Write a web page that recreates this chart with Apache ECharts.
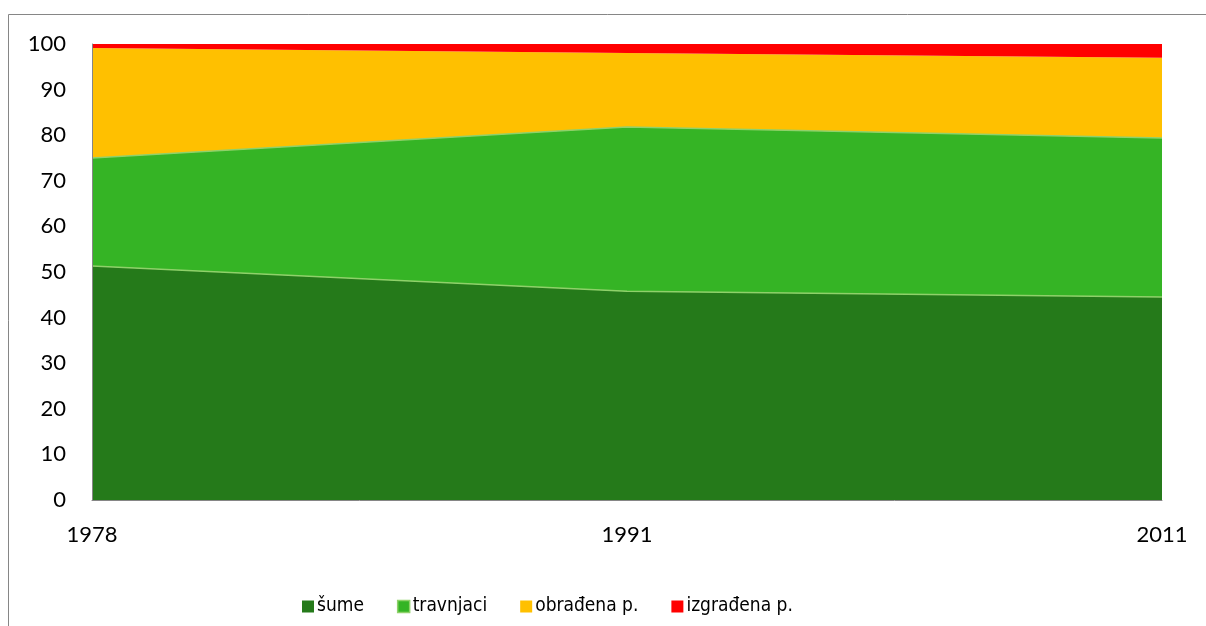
<!DOCTYPE html>
<html>
<head>
<meta charset="utf-8">
<script src="https://cdn.jsdelivr.net/npm/echarts@6/dist/echarts.min.js"></script>
<style>
html, body { margin: 0; padding: 0; background: #fff; }
#chart { width: 1206px; height: 626px; }
</style>
</head>
<body>
<div id="chart"></div>
<script>
var years = ['1978', '1991', '2011'];
var sume = [51.3, 45.8, 44.5];
var travnjaci = [23.7, 36.0, 34.9];
var obradena = [24.1, 16.2, 17.6];
var izgradena = [0.9, 2.0, 3.0];
var yTicks = [0, 10, 20, 30, 40, 50, 60, 70, 80, 90, 100];

var chart = echarts.init(document.getElementById('chart'));

function area(name, data, color, line) {
    return {
        name: name,
        type: 'line',
        stack: 'total',
        data: data,
        symbol: 'none',
        silent: true,
        areaStyle: { color: color, opacity: 1 },
        lineStyle: line ? { color: line, width: 1.5 } : { width: 0 },
        itemStyle: { color: color, borderColor: line || color }
    };
}

var option = {
    animation: false,
    graphic: [{
        type: 'rect',
        shape: { x: 8.5, y: 14.5, width: 1300, height: 700 },
        style: { fill: null, stroke: '#868686', lineWidth: 1 },
        z: -1
    }],
    grid: { left: 92, right: 44, top: 44, bottom: 126 },
    legend: {
        left: 297,
        top: 592,
        itemWidth: 12,
        itemHeight: 12,
        itemGap: 33,
        icon: 'rect',
        textStyle: { fontFamily: 'DejaVu Sans Condensed', fontSize: 19, color: '#000', padding: [0, 0, 0, -2] },
        data: [
            { name: 'šume' },
            { name: 'travnjaci', itemStyle: { borderColor: '#8fd16a', borderWidth: 1.5 } },
            { name: 'obrađena p.' },
            { name: 'izgrađena p.' }
        ]
    },
    xAxis: {
        type: 'category',
        data: years,
        boundaryGap: false,
        axisLine: { lineStyle: { color: '#868686' } },
        axisTick: { show: false },
        axisLabel: { color: '#000', fontFamily: 'Lato', fontSize: 22, margin: 24 },
        z: 10
    },
    yAxis: {
        type: 'value',
        min: 0,
        max: 100,
        interval: 10,
        axisLine: { show: true, lineStyle: { color: '#868686' } },
        axisTick: { show: false },
        splitLine: { show: false },
        axisLabel: {
            color: '#000', fontFamily: 'Lato', fontSize: 22, margin: 26,
            formatter: function (v) { return yTicks.indexOf(v) >= 0 ? String(v) : ''; }
        },
        z: 10
    },
    series: [
        area('šume', sume, '#257A1A', '#8fd16a'),
        area('travnjaci', travnjaci, '#35B425', '#8fd16a'),
        area('obrađena p.', obradena, '#FFC000'),
        area('izgrađena p.', izgradena, '#FF0000')
    ]
};
chart.setOption(option);
</script>
</body>
</html>
